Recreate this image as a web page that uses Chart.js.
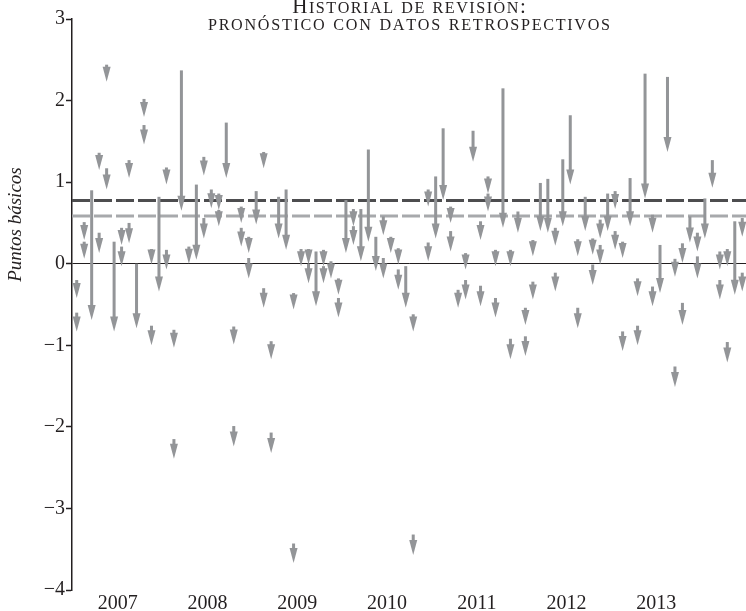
<!DOCTYPE html>
<html>
<head>
<meta charset="utf-8">
<script src="https://cdn.jsdelivr.net/npm/chart.js@4.4.1/dist/chart.umd.min.js"></script>
<style>
  html, body { margin: 0; padding: 0; background: #fff; }
  canvas { display: block; }
</style>
</head>
<body>
<canvas id="chart" width="746" height="611"></canvas>
<script>
// Year labels, centred under each year of months
const yearLabels = ["2007", "2008", "2009", "2010", "2011", "2012", "2013"];

// One entry per revision arrow: month (0 = ene 2007), first estimate, revised estimate
const arrowMonth = [
  0, 0, 1, 1, 2, 3, 3, 4, 4, 5, 6, 6, 7, 7, 8, 9, 9, 10, 10, 11,
  12, 12, 13, 13, 14, 15, 16, 17, 17, 18, 19, 19, 20, 21, 21, 22, 22, 23, 23,
  24, 25, 25, 26, 26, 27, 28, 29, 29, 30, 31, 31, 32, 33, 33, 34, 35, 35,
  36, 37, 37, 38, 39, 40, 41, 41, 42, 43, 43, 44, 45, 45, 47, 47,
  48, 49, 50, 50, 51, 52, 52, 53, 54, 54, 55, 55, 56, 56, 57, 58, 58, 59,
  60, 60, 61, 61, 62, 63, 64, 64, 65, 66, 67, 67, 68, 69, 69, 70, 70, 71,
  72, 72, 73, 73, 74, 75, 75, 76, 77, 77, 78, 79, 80, 80, 81, 81, 82, 83, 83,
  84, 85, 86, 86, 87, 87, 88, 89, 89
];
const arrowFrom = [
  -0.20, -0.60, 0.51, 0.27, 0.90, 1.36, 0.38, 2.44, 1.17, 0.27, 0.44, 0.21, 1.27, 0.50, 0.00, 2.02, 1.70, 0.18, -0.76, 0.82,
  1.18, 0.17, -0.81, -2.15, 2.37, 0.21, 0.97, 1.31, 0.56, 0.91, 0.86, 0.66, 1.73, -0.77, -1.99, 0.70, 0.44, 0.33, 0.07,
  0.89, 1.37, -0.30, -0.95, -2.07, 0.82, 0.91, -0.36, -3.43, 0.18, 0.18, 0.00, 0.15, 0.17, -0.03, 0.03, -0.18, -0.42,
  0.78, 0.67, 0.46, 0.67, 1.40, 0.33, 0.58, 0.07, 0.33, 0.19, -0.07, -0.03, -0.62, -3.32, 0.91, 0.26,
  1.07, 1.66, 0.70, 0.40, -0.32, 0.13, -0.20, 1.63, 0.52, -0.27, 1.07, 0.86, 0.17, -0.42, 2.15, 0.17, -0.92, 0.64,
  -0.54, -0.89, 0.29, -0.22, 0.99, 1.04, 0.44, -0.11, 1.28, 1.82, 0.30, -0.54, 0.82, 0.31, -0.01, 0.54, 0.23, 0.86,
  0.89, 0.40, 0.27, -0.83, 1.05, -0.18, -0.76, 2.33, 0.60, -0.28, 0.23, 2.29, 0.06, -1.26, 0.25, -0.48, 0.58, 0.38, 0.09,
  0.80, 1.27, 0.15, -0.20, 0.18, -0.96, 0.52, 0.56, -0.11
];
const arrowTo = [
  -0.42, -0.83, 0.29, 0.06, -0.69, 1.15, 0.13, 2.23, 0.91, -0.83, 0.23, -0.03, 1.05, 0.25, -0.79, 1.80, 1.46, -0.01, -1.00, -0.34,
  0.97, -0.07, -1.03, -2.39, 0.65, 0.00, 0.05, 1.08, 0.31, 0.68, 0.66, 0.46, 1.05, -0.99, -2.24, 0.50, 0.21, 0.13, -0.18,
  0.48, 1.17, -0.54, -1.17, -2.32, 0.31, 0.17, -0.56, -3.67, -0.03, -0.01, -0.24, -0.52, -0.03, -0.24, -0.18, -0.38, -0.66,
  0.13, 0.46, 0.23, 0.03, 0.27, -0.09, 0.35, -0.18, 0.13, -0.01, -0.32, -0.54, -0.83, -3.57, 0.70, 0.03,
  0.31, 0.78, 0.50, 0.15, -0.54, -0.07, -0.44, 1.25, 0.29, -0.52, 0.86, 0.64, -0.03, -0.66, 0.44, -0.03, -1.17, 0.38,
  -0.75, -1.13, 0.09, -0.44, 0.40, 0.38, 0.22, -0.34, 0.46, 0.97, 0.09, -0.79, 0.40, 0.11, -0.26, 0.31, -0.01, 0.40,
  0.67, 0.17, 0.07, -1.07, 0.46, -0.40, -1.00, 0.80, 0.38, -0.52, -0.36, 1.37, -0.16, -1.51, 0.01, -0.75, 0.26, 0.15, -0.18,
  0.31, 0.93, -0.07, -0.44, -0.03, -1.21, -0.38, 0.33, -0.34
];

// Average revision levels (dashed lines)
const levelValues = [0.775, 0.585];

const serif = "'Liberation Serif', 'Times New Roman', serif";
const ink = "#231f20";
const arrowColor = "#939598";
const levelColors = ["#4d4d4f", "#a7a9ac"];
const xMin = -0.63, xMax = 89.5;

Chart.defaults.font.family = serif;
Chart.defaults.color = ink;

// draws text with lower case letters as small capitals, letter spaced
const drawSmallCaps = (ctx, text, cx, baseline, size, spacing) => {
  const chars = [...text].map(ch => {
    const small = ch !== ch.toUpperCase();
    return { ch: ch.toUpperCase(), size: small ? size * 0.77 : size };
  });
  let total = 0;
  chars.forEach((c, i) => {
    ctx.font = c.size + "px " + serif;
    c.w = ctx.measureText(c.ch).width + (i < chars.length - 1 ? spacing : 0);
    total += c.w;
  });
  let x = cx - total / 2;
  chars.forEach(c => {
    ctx.font = c.size + "px " + serif;
    ctx.fillText(c.ch, x, baseline);
    x += c.w;
  });
};

const arrowPlugin = {
  id: "arrows",
  afterDatasetsDraw(chart) {
    const { ctx, scales } = chart;
    const headW = 8, headLen = 15, shaft = 3;
    ctx.save();
    ctx.fillStyle = arrowColor;
    for (let i = 0; i < arrowMonth.length; i++) {
      const px = scales.x.getPixelForValue(arrowMonth[i]);
      const y0 = scales.y.getPixelForValue(arrowFrom[i]);
      const y1 = scales.y.getPixelForValue(arrowTo[i]);
      const base = y1 - headLen;
      if (y0 < base) ctx.fillRect(px - shaft / 2, y0, shaft, base - y0 + 1);
      ctx.beginPath();
      ctx.moveTo(px - headW / 2, base);
      ctx.lineTo(px + headW / 2, base);
      ctx.lineTo(px, y1);
      ctx.closePath();
      ctx.fill();
    }
    ctx.restore();
  }
};

const textPlugin = {
  id: "texts",
  afterDraw(chart) {
    const { ctx, chartArea } = chart;
    const cx = (chartArea.left + chartArea.right) / 2;
    ctx.save();
    ctx.fillStyle = ink;
    ctx.textAlign = "left";
    ctx.textBaseline = "alphabetic";
    drawSmallCaps(ctx, "Historial de revisión:", cx, 13, 21, 1.5);
    drawSmallCaps(ctx, "pronóstico con datos retrospectivos", cx, 30, 21, 1.7);

    // y axis title
    ctx.translate(21, chartArea.top + (chartArea.bottom - chartArea.top) * 0.36);
    ctx.rotate(-Math.PI / 2);
    ctx.textAlign = "center";
    ctx.font = "italic 19px " + serif;
    ctx.fillText("Puntos básicos", 0, 0);
    ctx.restore();
  }
};

const levelDatasets = levelValues.map((v, i) => ({
  type: "scatter",
  data: [{ x: xMin, y: v }, { x: xMax, y: v }],
  showLine: true,
  borderColor: levelColors[i],
  borderWidth: 3,
  borderDash: [18, 4],
  pointRadius: 0
}));

const ctx = document.getElementById("chart").getContext("2d");
new Chart(ctx, {
  type: "scatter",
  data: { datasets: levelDatasets },
  options: {
    responsive: false,
    animation: false,
    layout: { padding: { top: 19, left: 0, right: 0, bottom: 0 } },
    plugins: { legend: { display: false }, tooltip: { enabled: false }, title: { display: false } },
    scales: {
      x: {
        type: "linear",
        min: xMin,
        max: xMax,
        grid: { display: false },
        border: { display: false },
        afterBuildTicks: axis => {
          axis.ticks = yearLabels.map((l, i) => ({ value: 5.5 + 12 * i }));
        },
        afterFit: scale => { scale.height = 21; },
        ticks: {
          padding: -6,
          maxRotation: 0,
          autoSkip: false,
          font: { size: 20 },
          color: ink,
          callback: (v, i) => yearLabels[i]
        }
      },
      y: {
        min: -4,
        max: 3,
        afterFit: scale => { scale.width = 72; },
        border: { display: true, color: ink, width: 1.5 },
        grid: {
          drawOnChartArea: true,
          color: c => (c.tick && c.tick.value === 0 ? ink : "rgba(0,0,0,0)"),
          lineWidth: 1,
          tickColor: ink,
          tickWidth: 1.5,
          tickLength: 6
        },
        ticks: {
          stepSize: 1,
          padding: 1,
          font: { size: 20 },
          color: ink,
          callback: v => (v < 0 ? "\u2212" + Math.abs(v) : String(v))
        }
      }
    }
  },
  plugins: [arrowPlugin, textPlugin]
});
</script>
</body>
</html>
